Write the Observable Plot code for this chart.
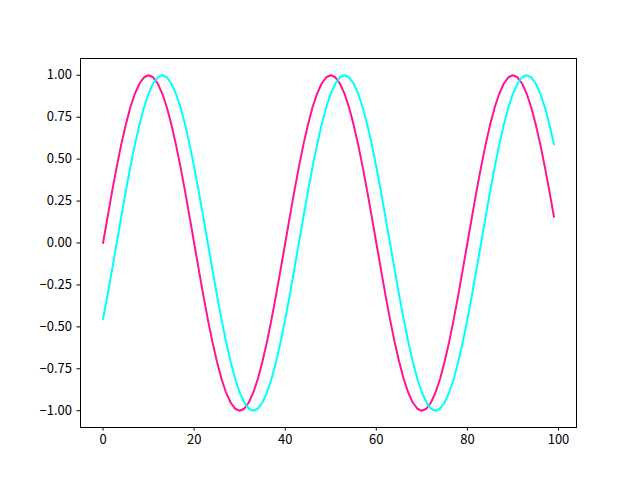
<!DOCTYPE html>
<html>
<head>
<meta charset="utf-8">
<script src="https://cdn.jsdelivr.net/npm/d3@7"></script>
<script src="https://cdn.jsdelivr.net/npm/@observablehq/plot@0.6"></script>
<style>
  html, body { margin: 0; padding: 0; background: #fff; }
  #chart { width: 640px; height: 480px; }
</style>
</head>
<body>
<div id="chart"></div>
<script>
// x positions 0..99
const xValues = d3.range(0, 100);

// Series (pink curve)
const pinkValues = [
  0, 0.156, 0.309, 0.454, 0.588, 0.707, 0.809, 0.891, 0.951, 0.988,
  1, 0.988, 0.951, 0.891, 0.809, 0.707, 0.588, 0.454, 0.309, 0.156,
  0, -0.156, -0.309, -0.454, -0.588, -0.707, -0.809, -0.891, -0.951, -0.988,
  -1, -0.988, -0.951, -0.891, -0.809, -0.707, -0.588, -0.454, -0.309, -0.156,
  0, 0.156, 0.309, 0.454, 0.588, 0.707, 0.809, 0.891, 0.951, 0.988,
  1, 0.988, 0.951, 0.891, 0.809, 0.707, 0.588, 0.454, 0.309, 0.156,
  0, -0.156, -0.309, -0.454, -0.588, -0.707, -0.809, -0.891, -0.951, -0.988,
  -1, -0.988, -0.951, -0.891, -0.809, -0.707, -0.588, -0.454, -0.309, -0.156,
  0, 0.156, 0.309, 0.454, 0.588, 0.707, 0.809, 0.891, 0.951, 0.988,
  1, 0.988, 0.951, 0.891, 0.809, 0.707, 0.588, 0.454, 0.309, 0.156
];

// Series (cyan curve)
const cyanValues = [
  -0.454, -0.309, -0.156,
  0, 0.156, 0.309, 0.454, 0.588, 0.707, 0.809, 0.891, 0.951, 0.988,
  1, 0.988, 0.951, 0.891, 0.809, 0.707, 0.588, 0.454, 0.309, 0.156,
  0, -0.156, -0.309, -0.454, -0.588, -0.707, -0.809, -0.891, -0.951, -0.988,
  -1, -0.988, -0.951, -0.891, -0.809, -0.707, -0.588, -0.454, -0.309, -0.156,
  0, 0.156, 0.309, 0.454, 0.588, 0.707, 0.809, 0.891, 0.951, 0.988,
  1, 0.988, 0.951, 0.891, 0.809, 0.707, 0.588, 0.454, 0.309, 0.156,
  0, -0.156, -0.309, -0.454, -0.588, -0.707, -0.809, -0.891, -0.951, -0.988,
  -1, -0.988, -0.951, -0.891, -0.809, -0.707, -0.588, -0.454, -0.309, -0.156,
  0, 0.156, 0.309, 0.454, 0.588, 0.707, 0.809, 0.891, 0.951, 0.988,
  1, 0.988, 0.951, 0.891, 0.809, 0.707, 0.588, 0.454, 0.309, 0.156,
  0, -0.156, -0.309, -0.454, -0.588, -0.707, -0.809, -0.891, -0.951, -0.988,
  -1, -0.988, -0.951, -0.891, -0.809, -0.707, -0.588
];

const xTicks = [0, 20, 40, 60, 80, 100];
const yTicks = [-1.0, -0.75, -0.5, -0.25, 0, 0.25, 0.5, 0.75, 1.0];

const pinkData = xValues.map((x, i) => ({x, y: pinkValues[i]}));
const cyanData = xValues.map((x, i) => ({x, y: cyanValues[i]}));

const chart = Plot.plot({
  width: 640,
  height: 480,
  marginLeft: 80,
  marginRight: 64,
  marginTop: 58,
  marginBottom: 53,
  style: {fontFamily: "'Noto Sans CJK SC', 'DejaVu Sans', sans-serif", fontSize: "13px", color: "#000", background: "#fff"},
  x: {domain: [-4.95, 103.95]},
  y: {domain: [-1.1, 1.1]},
  marks: [
    Plot.line(pinkData, {x: "x", y: "y", stroke: "#ff1493", strokeWidth: 2}),
    Plot.line(cyanData, {x: "x", y: "y", stroke: "#00ffff", strokeWidth: 2}),
    Plot.frame({stroke: "#000", strokeWidth: 1}),
    Plot.axisX({ticks: xTicks, tickSize: 3.5, tickPadding: 4, tickFormat: d => String(d), label: null, fontSize: 13, stroke: "#000"}),
    Plot.axisY({ticks: yTicks, tickSize: 3.5, tickPadding: 5, tickFormat: d => d.toFixed(2).replace("-", "\u2212"), label: null, fontSize: 13, stroke: "#000"})
  ]
});
document.getElementById("chart").appendChild(chart);
</script>
</body>
</html>
